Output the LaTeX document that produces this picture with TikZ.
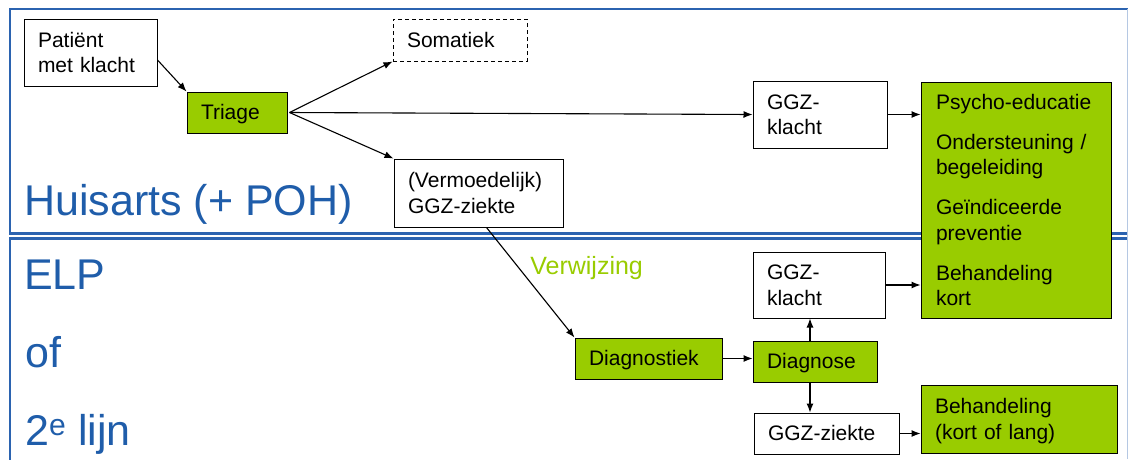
\documentclass[tikz,border=0pt]{standalone}
\usepackage{fontspec}
\setmainfont{Liberation Sans}
\usetikzlibrary{positioning, arrows.meta}
\definecolor{tikzGreen}{HTML}{99CC00}
\definecolor{frameBlue}{HTML}{2B63B0}
\definecolor{titleBlue}{HTML}{1F5DAA}
\newcommand{\flowfont}{\fontsize{21}{25.5}\selectfont}
\newcommand{\regionfont}{\fontsize{43}{43}\selectfont}
\newcommand{\verwfont}{\fontsize{25}{25}\selectfont}
\tikzstyle{flowbox} =[draw, fill=white, line width=1pt, align=left, inner xsep=14pt, inner ysep=0pt, font=\flowfont,
	execute at begin node={\rule{0pt}{19pt}}, execute at end node={\rule[-4.5pt]{0pt}{4.5pt}}]
\tikzstyle{actionbox} =[flowbox, fill=tikzGreen]
\tikzstyle{regiontitle} =[anchor=base west, inner sep=0pt, text=titleBlue, font=\regionfont]
\tikzstyle{frame} =[draw=frameBlue, line width=2.5pt]
\tikzstyle{flowarrow} =[-{Latex[length=9pt, width=7pt]}, line width=1.1pt, black]

\begin{document}
\begin{tikzpicture}[x=1pt, y=-1pt]
\useasboundingbox (0,0) rectangle (1128,459);

%frames
\draw[frame] (1130,9) -- (10,9) -- (10,233.3) -- (1130,233.3);
\draw[frame] (1130,238.3) -- (10,238.3) -- (10,470);
\draw[line width=0.8pt, frameBlue!35] (1127,9) -- (1127,459);

\node (huisarts) [regiontitle] at (24,215) {Huisarts (+ POH)};
\node (elp) [regiontitle] at (24,289) {ELP};
\node (of) [regiontitle] at (25,367) {of};
\node (lijn) [regiontitle] at (25,445) {2\textsuperscript{e} lijn};

\node (patient) [flowbox, text width=105pt, minimum height=67pt] at (90.5,52.5) {Patiënt\\met klacht};
\node (triage) [actionbox, text width=72pt, minimum height=41pt] at (237,112.5) {Triage};
\node (somatiek) [flowbox, dash pattern=on 4pt off 3pt, text width=106pt, minimum height=42pt] at (460,40) {Somatiek};
\node (ggzKlacht) [flowbox, text width=106pt, minimum height=67pt] at (820,114.5) {GGZ-\\klacht};
\node (vermoed) [flowbox, text width=141pt, minimum height=68pt] at (478.5,193) {(Vermoedelijk)\\GGZ-ziekte};

\node (zorg) [actionbox, inner xsep=15pt, text width=160pt, minimum height=236pt] at (1016,200)
	{Psycho-educatie\\[14.5pt]Ondersteuning /\\begeleiding\\[14.5pt]Geïndiceerde\\preventie\\[14.5pt]Behandeling\\kort};

\node (diagnostiek) [actionbox, text width=119pt, minimum height=41pt] at (648.5,358.5) {Diagnostiek};
\node (diagnose) [actionbox, text width=96pt, minimum height=41pt, right=30pt of diagnostiek, yshift=-3pt] {Diagnose};
\node (klachtTwee) [flowbox, text width=104pt, minimum height=66pt, above=22pt of diagnose, xshift=4pt] {GGZ-\\klacht};
\node (ggzZiekte) [flowbox, text width=117pt, minimum height=41pt, below=30pt of diagnose, xshift=11.5pt] {GGZ-ziekte};
\node (behandeling) [actionbox, text width=168pt, minimum height=68pt, right=21pt of ggzZiekte, yshift=14.5pt] {Behandeling\\(kort of lang)};

\coordinate (upFoot) at ([xshift=-5pt]diagnose.north);
\coordinate (downFoot) at ([xshift=-5pt]diagnose.south);

\draw[flowarrow] ([yshift=-7.5pt]patient.east) -- (triage.north west);
\draw[flowarrow] ([xshift=2pt]triage.east) -- (somatiek.south west);
\draw[flowarrow] ([xshift=2pt]triage.east) -- (ggzKlacht.west);
\draw[flowarrow] ([xshift=2pt]triage.east) -- (vermoed.north west);

\draw[flowarrow] ([xshift=8pt]vermoed.south) --
	node [pos=0.35, anchor=west, inner sep=0pt, xshift=12.5pt, yshift=-2pt, text=tikzGreen, font=\verwfont] {Verwijzing}
	(diagnostiek.north west);

\draw[flowarrow] (diagnostiek.east) -- (diagnostiek.east -| diagnose.west);
\draw[flowarrow] (upFoot) -- (upFoot |- klachtTwee.south);
\draw[flowarrow] (downFoot) -- (downFoot |- ggzZiekte.north);
\draw[flowarrow] (ggzKlacht.east) -- (ggzKlacht.east -| zorg.west);
\draw[flowarrow] (klachtTwee.east) -- (klachtTwee.east -| zorg.west);
\draw[flowarrow] (ggzZiekte.east) -- (ggzZiekte.east -| behandeling.west);

\end{tikzpicture}
\end{document}
